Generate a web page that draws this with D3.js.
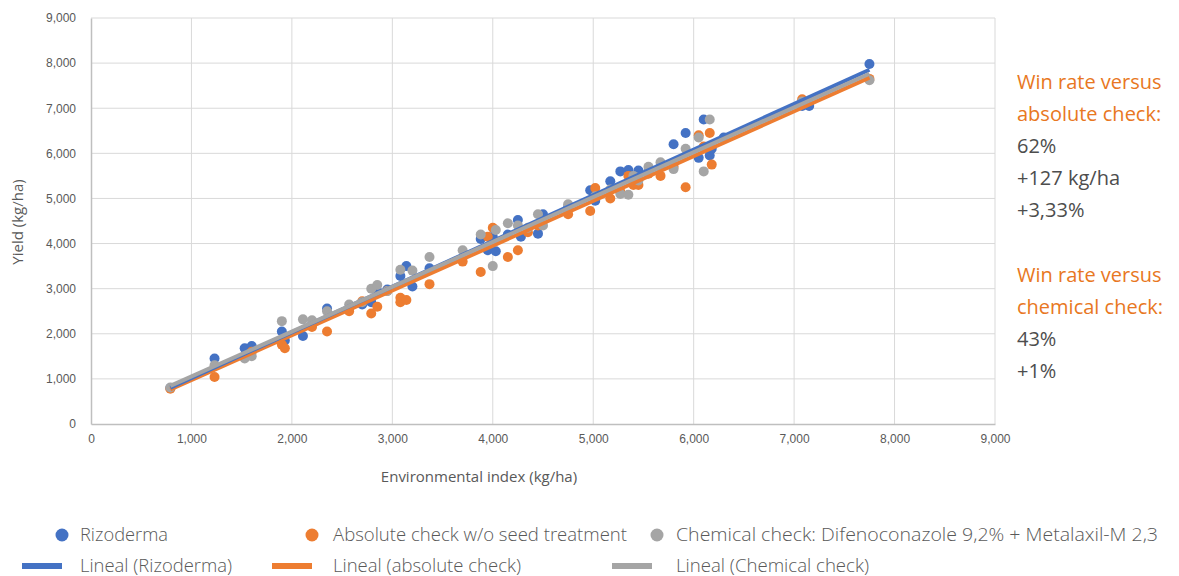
<!DOCTYPE html>
<html><head><meta charset="utf-8">
<script src="https://cdn.jsdelivr.net/npm/d3@7"></script>
<style>
body{margin:0;background:#fff;}
svg{display:block;}
</style></head>
<body><svg id="c" width="1179" height="576"></svg>
<script>
// ---- data ----
const rizodermaX = [790,1230,1530,1600,1900,1930,2110,2200,2350,2570,2700,2790,2850,2950,3080,3140,3200,3370,3880,3950,4000,4030,4150,4250,4280,4450,4500,4750,4970,5020,5170,5270,5350,5450,5550,5670,5800,5920,6050,6100,6160,6180,6300,7080,7150,7750];
const rizodermaY = [800,1450,1680,1730,2050,1850,1950,2200,2560,2550,2650,2700,2950,2980,3280,3500,3050,3450,4100,3850,4150,3830,4200,4520,4150,4220,4650,4800,5180,4950,5380,5600,5630,5620,5600,5700,6200,6450,5900,6750,5950,6100,6350,7050,7050,7980];
const absoluteX = [790,1230,1600,1900,1930,2200,2350,2570,2700,2790,2850,2950,3080,3080,3140,3370,3700,3880,3950,4000,4150,4250,4350,4450,4750,4970,5020,5170,5270,5350,5400,5450,5550,5670,5800,5920,6050,6100,6160,6180,7080,7750];
const absoluteY = [780,1040,1600,1760,1680,2150,2050,2500,2720,2450,2600,2950,2800,2700,2750,3100,3600,3370,4150,4350,3700,3850,4250,4400,4650,4720,5230,5000,5150,5500,5300,5300,5550,5500,5700,5250,6400,6150,6450,5750,7200,7650];
const chemicalX = [790,1230,1530,1600,1900,2110,2200,2350,2570,2700,2790,2850,2950,3080,3200,3370,3700,3880,4000,4030,4150,4250,4350,4450,4500,4750,5020,5170,5270,5350,5400,5450,5550,5670,5800,5920,6050,6100,6160,7080,7750];
const chemicalY = [810,1300,1450,1500,2280,2320,2300,2500,2650,2700,3000,3080,2950,3420,3400,3700,3850,4200,3500,4300,4450,4400,4350,4650,4400,4870,5050,5200,5100,5080,5500,5400,5700,5800,5650,6100,6350,5600,6750,7150,7620];
// linear trend lines (start / end values)
const trendX = [790, 7750];
const rizodermaTrend = [807, 7854];
const absoluteTrend = [765, 7677];
const chemicalTrend = [845, 7765];
const seriesNames = ["Rizoderma","Absolute check w/o seed treatment","Chemical check: Difenoconazole 9,2% + Metalaxil-M 2,3"];
const trendNames = ["Lineal (Rizoderma)","Lineal (absolute check)","Lineal (Chemical check)"];
const colors = ["#4472C4","#ED7D31","#A5A5A5"];
const xTicks = [0,1000,2000,3000,4000,5000,6000,7000,8000,9000];
const yTicks = [0,1000,2000,3000,4000,5000,6000,7000,8000,9000];
const sideText = [
 {t:"Win rate versus", c:"orange"},{t:"absolute check:", c:"orange"},{t:"62%",c:"gray"},{t:"+127 kg/ha",c:"gray"},{t:"+3,33%",c:"gray"},
 {t:"",c:"gray"},
 {t:"Win rate versus", c:"orange"},{t:"chemical check:", c:"orange"},{t:"43%",c:"gray"},{t:"+1%",c:"gray"}
];

const series = [
  {x:rizodermaX,y:rizodermaY,t:rizodermaTrend},
  {x:absoluteX,y:absoluteY,t:absoluteTrend},
  {x:chemicalX,y:chemicalY,t:chemicalTrend}
];

const svg = d3.select("#c");
const L=91, R=995, T=18, B=424;
const x = d3.scaleLinear().domain([0,9000]).range([L,R]);
const y = d3.scaleLinear().domain([0,9000]).range([B,T]);
const fmt = d3.format(",");
const tickFont = "'Liberation Sans', Arial, sans-serif";
const lightFont = "'Open Sans', 'Noto Sans', sans-serif";

// grid
svg.append("g").selectAll("line.v").data(xTicks.slice(1)).join("line")
  .attr("x1",d=>x(d)).attr("x2",d=>x(d)).attr("y1",T).attr("y2",B)
  .attr("stroke","#d9d9d9").attr("stroke-width",1);
svg.append("g").selectAll("line.h").data(yTicks.slice(1)).join("line")
  .attr("x1",L).attr("x2",R).attr("y1",d=>y(d)).attr("y2",d=>y(d))
  .attr("stroke","#d9d9d9").attr("stroke-width",1);

// axes
const xAxis = svg.append("g").attr("transform",`translate(0,${B})`)
  .call(d3.axisBottom(x).tickValues(xTicks).tickFormat(fmt).tickSize(0).tickPadding(10));
const yAxis = svg.append("g").attr("transform",`translate(${L},0)`)
  .call(d3.axisLeft(y).tickValues(yTicks).tickFormat(fmt).tickSize(0).tickPadding(15));
[xAxis,yAxis].forEach(a=>{
  a.select(".domain").attr("stroke","#bfbfbf").attr("stroke-width",1.5);
  a.selectAll("text").attr("fill","#595959").style("font-family",tickFont).style("font-size","12px");
});

// axis titles
svg.append("text").attr("x",479).attr("y",482).attr("text-anchor","middle")
  .style("font-family",lightFont).style("font-size","15px").attr("fill","#595959")
  .text("Environmental index (kg/ha)");
svg.append("text").attr("transform","translate(23,222) rotate(-90)").attr("text-anchor","middle")
  .style("font-family",lightFont).style("font-size","15px").attr("fill","#595959")
  .text("Yield (kg/ha)");

// points
series.forEach((s,i)=>{
  svg.append("g").selectAll("circle").data(s.x.map((v,j)=>[v,s.y[j]])).join("circle")
    .attr("cx",d=>x(d[0])).attr("cy",d=>y(d[1])).attr("r",5).attr("fill",colors[i]);
});

// trend lines
const lineGen = d3.line().x(d=>x(d[0])).y(d=>y(d[1]));
[1,0,2].forEach(i=>{
  svg.append("path").attr("d",lineGen(trendX.map((v,j)=>[v,series[i].t[j]])))
    .attr("fill","none").attr("stroke",colors[i]).attr("stroke-width",4);
});

// legend
const legX = [[62,80],[312,333],[657,676]];
const swX = [[22,62],[272,312],[612,652]];
const legW = [88,294,482];
const trW = [152,188,193];
seriesNames.forEach((n,i)=>{
  svg.append("circle").attr("cx",legX[i][0]).attr("cy",535).attr("r",6.5).attr("fill",colors[i]);
  svg.append("text").attr("x",legX[i][1]).attr("y",541).text(n)
    .attr("textLength",legW[i]).attr("lengthAdjust","spacingAndGlyphs")
    .style("font-family",lightFont).style("font-size","18px").style("font-weight",300).attr("fill","#595959");
});
trendNames.forEach((n,i)=>{
  svg.append("rect").attr("x",swX[i][0]).attr("y",563).attr("width",swX[i][1]-swX[i][0]).attr("height",6).attr("fill",colors[i]);
  svg.append("text").attr("x",legX[i][1]).attr("y",572).text(n)
    .attr("textLength",trW[i]).attr("lengthAdjust","spacingAndGlyphs")
    .style("font-family",lightFont).style("font-size","18px").style("font-weight",300).attr("fill","#595959");
});

// side text
svg.append("g").selectAll("text").data(sideText).join("text")
  .attr("x",1017).attr("y",(d,i)=>89+i*32.1).text(d=>d.t)
  .style("font-family",lightFont).style("font-size","20px")
  .attr("fill",d=>d.c==="orange"?"#E87722":"#4d4d4d");
</script></body></html>
